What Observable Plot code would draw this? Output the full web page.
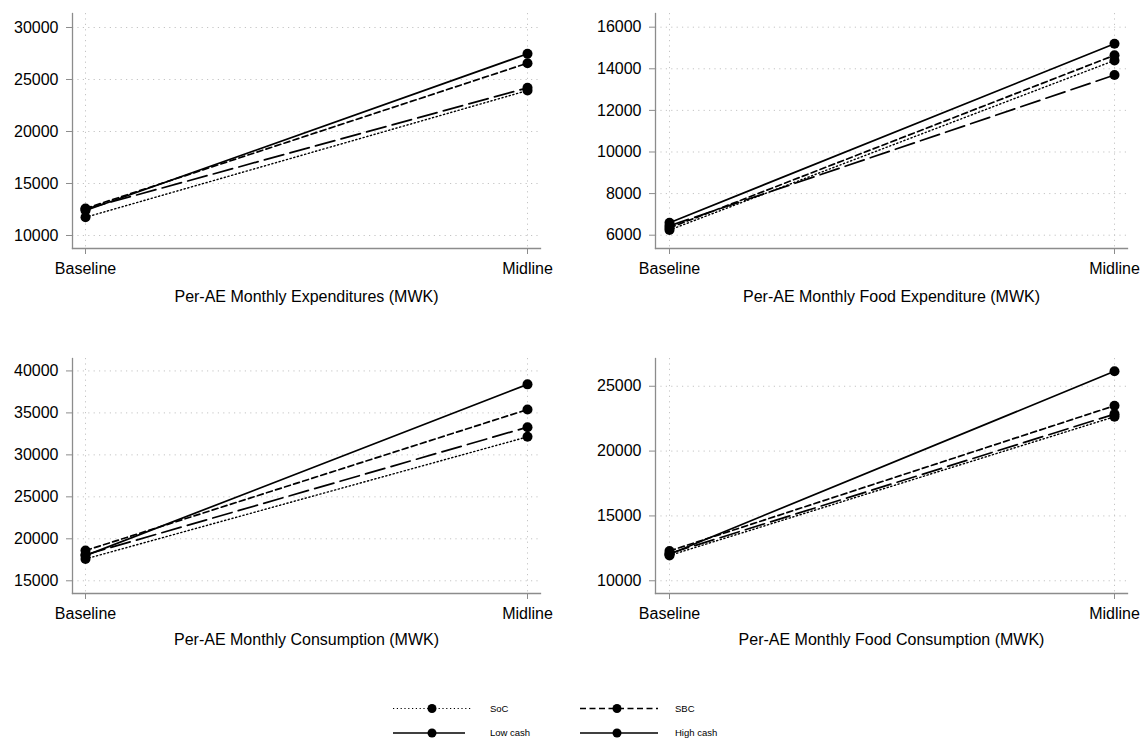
<!DOCTYPE html>
<html><head><meta charset="utf-8">
<script src="https://cdn.jsdelivr.net/npm/d3@7"></script>
<script src="https://cdn.jsdelivr.net/npm/@observablehq/plot@0.6"></script>
<style>
body{margin:0;background:#fff;font-family:"Liberation Sans",Arial,sans-serif;}
#wrap{position:relative;width:1140px;height:740px;overflow:hidden;}
.panel{position:absolute;overflow:visible;}
</style></head><body><div id="wrap"></div>
<script>
const rounds = ["Baseline", "Midline"];
const series = ["SoC", "SBC", "Low cash", "High cash"];

const panelTitles = [
  "Per-AE Monthly Expenditures (MWK)",
  "Per-AE Monthly Food Expenditure (MWK)",
  "Per-AE Monthly Consumption (MWK)",
  "Per-AE Monthly Food Consumption (MWK)"
];

// values per series: [Baseline, Midline]
const expenditures   = {"SoC": [11750, 23940], "SBC": [12600, 26570], "Low cash": [12550, 24200], "High cash": [12400, 27470]};
const foodExpenditure = {"SoC": [6250, 14400],  "SBC": [6350, 14650],  "Low cash": [6450, 13700],  "High cash": [6600, 15200]};
const consumption    = {"SoC": [17600, 32150], "SBC": [18600, 35400], "Low cash": [18100, 33300], "High cash": [18000, 38400]};
const foodConsumption = {"SoC": [11950, 22650], "SBC": [12300, 23500], "Low cash": [12100, 22850], "High cash": [12050, 26150]};

const yTicks1 = [10000, 15000, 20000, 25000, 30000];
const yTicks2 = [6000, 8000, 10000, 12000, 14000, 16000];
const yTicks3 = [15000, 20000, 25000, 30000, 35000, 40000];
const yTicks4 = [10000, 15000, 20000, 25000];

const yDomains = [[8750, 31346], [5360, 16658], [13485, 41480], [9018, 27140]];

const dashes = {"SoC": "1.2,2.6", "SBC": "6,3.5", "Low cash": "20,6.5", "High cash": null};
const legendDashes = {"SoC": "1.2,2.6", "SBC": "6,3.5", "Low cash": null, "High cash": null};

const panels = [
  {vals: expenditures, ticks: yTicks1, domain: yDomains[0], title: panelTitles[0], left: 0, top: 0, mt: 13, mb: 72, ml: 72, mr: 30, il: 13, ir: 12.5, td: 53},
  {vals: foodExpenditure, ticks: yTicks2, domain: yDomains[1], title: panelTitles[1], left: 570, top: 0, mt: 13, mb: 72, ml: 85, mr: 13, il: 13.5, ir: 13.5, td: 53},
  {vals: consumption, ticks: yTicks3, domain: yDomains[2], title: panelTitles[2], left: 0, top: 340, mt: 18, mb: 67, ml: 72, mr: 30, il: 13, ir: 12.5, td: 51.5},
  {vals: foodConsumption, ticks: yTicks4, domain: yDomains[3], title: panelTitles[3], left: 570, top: 340, mt: 18, mb: 67, ml: 85, mr: 13, il: 13.5, ir: 13.5, td: 51.5}
];

const wrap = document.getElementById("wrap");
const axisGray = "#8c8c8c";
const gridGray = "#c4c4c4";
const font = "'Liberation Sans', Arial, sans-serif";

for (const p of panels) {
  const rows = [];
  for (const s of series) rounds.forEach((r, i) => rows.push({series: s, round: r, value: p.vals[s][i]}));
  const lineMarks = series.map(s => Plot.line(rows.filter(d => d.series === s), {
    x: "round", y: "value", stroke: "black", strokeWidth: s === "SoC" ? 1.4 : 1.7,
    strokeDasharray: dashes[s]
  }));
  const chart = Plot.plot({
    width: 570, height: 320,
    marginTop: p.mt, marginBottom: p.mb, marginLeft: p.ml, marginRight: p.mr,
    insetLeft: p.il, insetRight: p.ir,
    style: {fontFamily: font, fontSize: "16px", color: "#000", background: "transparent", overflow: "visible"},
    x: {type: "point", domain: rounds, padding: 0, axis: null},
    y: {domain: p.domain, axis: null},
    marks: [
      Plot.gridY(p.ticks, {stroke: gridGray, strokeOpacity: 1, strokeWidth: 1, strokeDasharray: "1.2,4.2"}),
      Plot.gridX(rounds, {stroke: gridGray, strokeOpacity: 1, strokeWidth: 1, strokeDasharray: "1.2,4.2"}),
      Plot.frame({anchor: "left", stroke: axisGray, strokeWidth: 1.3}),
      Plot.frame({anchor: "bottom", stroke: axisGray, strokeWidth: 1.3}),
      Plot.axisY(p.ticks, {tickSize: 6, tickPadding: 8, stroke: axisGray, fill: "#000", fontSize: 16, tickFormat: d => String(d), label: null}),
      Plot.axisX(rounds, {tickSize: 6, tickPadding: 8, stroke: axisGray, fill: "#000", fontSize: 16, label: null}),
      ...lineMarks,
      Plot.dot(rows, {x: "round", y: "value", r: 5, fill: "black", stroke: "none"}),
      Plot.text([p.title], {frameAnchor: "bottom", dy: p.td, fontSize: 16, fill: "#000", text: d => d})
    ]
  });
  chart.classList.add("panel");
  chart.style.left = p.left + "px";
  chart.style.top = p.top + "px";
  wrap.appendChild(chart);
}

// legend
const leg = d3.create("svg").attr("width", 1140).attr("height", 80)
  .attr("class", "panel").style("left", "0px").style("top", "680px");
const legPos = [
  {s: "SoC", x1: 393, x2: 472, cx: 432, tx: 490, y: 28.5},
  {s: "SBC", x1: 580, x2: 658, cx: 617, tx: 675, y: 28.5},
  {s: "Low cash", x1: 393, x2: 465, cx: 432, tx: 490, y: 53},
  {s: "High cash", x1: 580, x2: 658, cx: 617, tx: 675, y: 53}
];
for (const l of legPos) {
  leg.append("line").attr("x1", l.x1).attr("x2", l.x2).attr("y1", l.y).attr("y2", l.y)
    .attr("stroke", "black").attr("stroke-width", l.s === "SoC" ? 1.2 : 1.7)
    .attr("stroke-dasharray", legendDashes[l.s]);
  leg.append("circle").attr("cx", l.cx).attr("cy", l.y).attr("r", 4.5).attr("fill", "black");
  leg.append("text").attr("x", l.tx).attr("y", l.y).attr("dy", "0.35em")
    .attr("font-family", font).attr("font-size", 9.5).text(l.s);
}
wrap.appendChild(leg.node());
</script>
</body></html>
